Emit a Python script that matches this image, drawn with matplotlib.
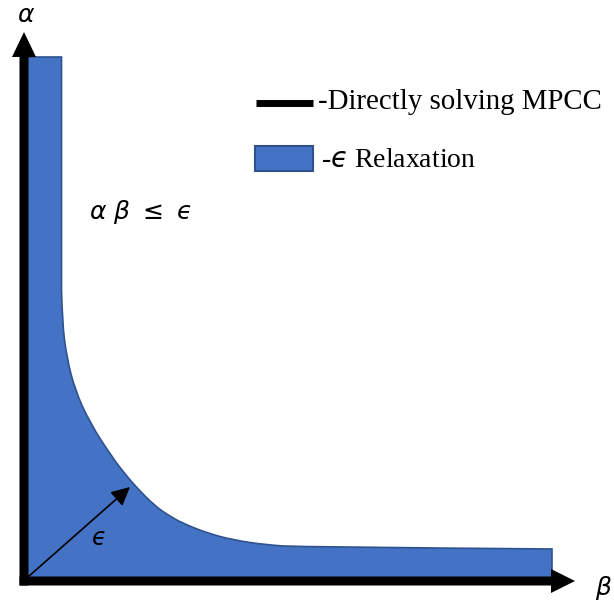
import numpy as np
import matplotlib.pyplot as plt
from matplotlib.patches import PathPatch, Rectangle
from matplotlib.path import Path

plt.rcParams['mathtext.fontset'] = 'dejavusans'

# outer edge of the relaxed feasible region (beta, alpha)
beta_edge = [37.5, 37.5, 38.3, 42.7, 51, 66, 88, 101, 113, 131, 144, 158,
             183, 209, 243, 276, 528]
alpha_edge = [524, 291, 258, 224, 191, 158, 124, 107, 93, 75, 66, 58,
              48, 41, 36, 34, 32]

EPS = '\u03f5'  # lunate epsilon, as in the original
legend_labels = ['-Directly solving MPCC', '-$' + EPS + '$ Relaxation']
axis_labels = [r'$\beta$', r'$\alpha$']
constraint_text = r'$\alpha\ \beta\ \leq\ ' + EPS + '$'

blue = '#4472C4'
blue_edge = '#2F528F'

fig = plt.figure(figsize=(6.14, 6.04), dpi=100)
ax = fig.add_axes([0, 0, 1, 1])
ax.set_xlim(-24, 590)
ax.set_ylim(-23, 581)
ax.axis('off')

# relaxed region: between the axes and the edge curve.
# the edge points are used as quadratic control points so the outline is smooth
pts = np.column_stack([beta_edge, alpha_edge])
verts = [(0, 0), (0, alpha_edge[0]), tuple(pts[0]), tuple(pts[1])]
codes = [Path.MOVETO, Path.LINETO, Path.LINETO, Path.LINETO]
for i in range(2, len(pts) - 2):
    mid = (pts[i] + pts[i + 1]) / 2
    verts += [tuple(pts[i]), tuple(mid)]
    codes += [Path.CURVE3, Path.CURVE3]
verts += [tuple(pts[-2]), tuple(pts[-1])]
codes += [Path.CURVE3, Path.CURVE3]
verts += [(pts[-1][0], 0), (0, 0)]
codes += [Path.LINETO, Path.CLOSEPOLY]
ax.add_patch(PathPatch(Path(verts, codes), fc=blue, ec=blue_edge, lw=1.2, zorder=1))

# axes as thick arrows
ax.arrow(0, -4.5, 0, 553.5, width=9, head_width=24, head_length=25,
         length_includes_head=True, fc='black', ec='none', zorder=3)
ax.arrow(-4.5, 0, 555.5, 0, width=9, head_width=24, head_length=24,
         length_includes_head=True, fc='black', ec='none', zorder=3)
ax.text(2, 566, axis_labels[1], fontsize=18, ha='center', va='center')
ax.text(580, -7, axis_labels[0], fontsize=18, ha='center', va='center')

# epsilon arrow from the origin to the edge
ax.annotate('', xy=(106, 94), xytext=(4, 4),
            arrowprops=dict(arrowstyle='-|>', color='black', lw=1.2,
                            mutation_scale=28, shrinkA=0, shrinkB=0), zorder=4)
ax.text(74, 43, '$' + EPS + '$', fontsize=17, ha='center', va='center')

ax.text(65, 369, constraint_text, fontsize=18, ha='left', va='center')

# hand-made legend
ax.plot([232, 289], [478.5, 478.5], color='black', lw=5, solid_capstyle='butt')
ax.text(294, 472, legend_labels[0], fontfamily='Liberation Serif', fontsize=20.8,
        va='baseline', ha='left')
ax.add_patch(Rectangle((231, 410), 58, 25, fc=blue, ec=blue_edge, lw=1.5))
ax.text(297, 414, legend_labels[1], fontfamily='Liberation Serif', fontsize=20,
        va='baseline', ha='left')

fig.savefig('out.png', dpi=100)
